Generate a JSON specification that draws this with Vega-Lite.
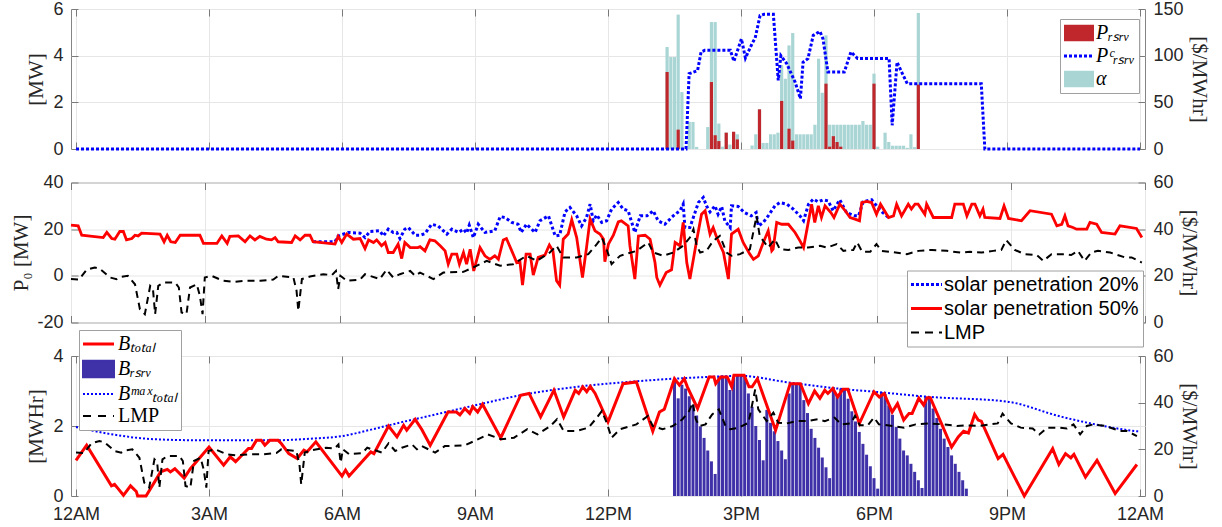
{
  "$schema": "https://vega.github.io/schema/vega-lite/v6.json",
  "padding": {"left": 10, "top": -1, "right": 10, "bottom": 2},
  "bounds": "flush",
  "spacing": 33.5,
  "config": {
    "view": {"stroke": "#858585", "strokeWidth": 1},
    "font": "Liberation Sans",
    "axis": {"domain": false, "labelFont": "Liberation Sans", "labelFontSize": 18, "labelColor": "#262626", "titleFont": "Liberation Serif", "titleFontSize": 21, "titleFontWeight": "normal", "titleColor": "#262626", "gridColor": "#e6e6e6", "gridWidth": 1, "tickColor": "#7a7a7a", "tickSize": -7, "tickWidth": 1, "labelPadding": 15, "titlePadding": 5},
    "legend": {"fillColor": "white", "strokeColor": "#a0a0a0", "padding": 4, "labelColor": "#000000", "labelLimit": 400, "symbolSize": 900, "cornerRadius": 0}
  },
  "resolve": {"scale": {"color": "independent"}, "legend": {"color": "independent"}},
  "datasets": {
    "top_alpha": [
      {"t":13.333,"v":4.37},{"t":13.417,"v":3.94},{"t":13.5,"v":3.94},{"t":13.583,"v":5.76},{"t":13.667,"v":2.44},{"t":13.833,"v":1.16},{"t":13.917,"v":1.16},{"t":14.0,"v":0.09},{"t":14.25,"v":0.94},{"t":14.333,"v":5.44},{"t":14.417,"v":5.44},{"t":14.5,"v":1.09},{"t":14.583,"v":0.1},{"t":14.667,"v":0.7},{"t":14.75,"v":0.19},{"t":14.833,"v":0.7},{"t":14.917,"v":0.63},{"t":15.25,"v":0.15},{"t":15.333,"v":0.63},{"t":15.417,"v":1.7},{"t":15.5,"v":0.26},{"t":15.583,"v":0.26},{"t":15.667,"v":0.63},{"t":15.75,"v":0.63},{"t":15.833,"v":0.7},{"t":15.917,"v":3.59},{"t":16.0,"v":3.01},{"t":16.083,"v":4.44},{"t":16.167,"v":4.97},{"t":16.25,"v":0.63},{"t":16.333,"v":0.63},{"t":16.417,"v":0.63},{"t":16.5,"v":0.63},{"t":16.583,"v":0.63},{"t":16.667,"v":1.04},{"t":16.75,"v":3.87},{"t":16.833,"v":2.41},{"t":16.917,"v":4.87},{"t":17.0,"v":1.04},{"t":17.083,"v":1.04},{"t":17.167,"v":1.04},{"t":17.25,"v":1.04},{"t":17.333,"v":1.04},{"t":17.417,"v":1.04},{"t":17.5,"v":1.04},{"t":17.583,"v":1.04},{"t":17.667,"v":1.04},{"t":17.75,"v":1.2},{"t":17.833,"v":1.04},{"t":17.917,"v":1.04},{"t":18.0,"v":3.23},{"t":18.083,"v":0.1},{"t":18.25,"v":0.7},{"t":18.333,"v":0.3},{"t":18.417,"v":0.14},{"t":18.5,"v":0.14},{"t":18.583,"v":0.14},{"t":18.667,"v":0.14},{"t":18.75,"v":0.05},{"t":18.833,"v":0.63},{"t":18.917,"v":0.08},{"t":19.0,"v":5.83}
    ],
    "top_p": [
      {"t":13.333,"v":3.3},{"t":13.583,"v":0.83},{"t":14.333,"v":2.87},{"t":14.417,"v":0.59},{"t":14.5,"v":0.34},{"t":14.667,"v":0.7},{"t":14.833,"v":0.74},{"t":14.917,"v":0.41},{"t":15.417,"v":1.7},{"t":15.917,"v":2.06},{"t":16.083,"v":0.87},{"t":16.167,"v":0.36},{"t":16.917,"v":2.8},{"t":17.0,"v":0.1},{"t":17.083,"v":0.55},{"t":17.167,"v":0.3},{"t":17.25,"v":0.1},{"t":18.0,"v":2.8},{"t":19.0,"v":2.76}
    ],
    "top_pc": [
      {"t":0,"v":0},{"t":13.76,"v":0},{"t":13.83,"v":80.7},{"t":14.02,"v":84},{"t":14.1,"v":104},{"t":14.18,"v":105.7},{"t":14.76,"v":105.7},{"t":14.84,"v":94},{"t":15.01,"v":118},{"t":15.1,"v":97.5},{"t":15.25,"v":113},{"t":15.32,"v":119},{"t":15.43,"v":143},{"t":15.52,"v":144.3},{"t":15.73,"v":144.3},{"t":15.84,"v":73.6},{"t":15.9,"v":100},{"t":16.03,"v":91.5},{"t":16.22,"v":71.8},{"t":16.34,"v":53.9},{"t":16.4,"v":93},{"t":16.51,"v":96.8},{"t":16.63,"v":121.8},{"t":16.78,"v":126},{"t":16.85,"v":118},{"t":16.96,"v":82.5},{"t":17.33,"v":82.5},{"t":17.48,"v":104},{"t":17.63,"v":97},{"t":18.34,"v":97},{"t":18.41,"v":25.4},{"t":18.52,"v":93},{"t":18.64,"v":80.7},{"t":18.75,"v":70},{"t":20.42,"v":70},{"t":20.5,"v":0},{"t":24,"v":0}
    ],
    "mid_20": [
      {"t":5.41,"v":14.6},{"t":5.9,"v":14.6},{"t":5.97,"v":17.1},{"t":6.2,"v":18.6},{"t":6.46,"v":18.3},{"t":6.57,"v":16.4},{"t":6.68,"v":19},{"t":6.9,"v":19.3},{"t":6.98,"v":17.1},{"t":7.09,"v":20},{"t":7.2,"v":18.6},{"t":7.28,"v":18.6},{"t":7.35,"v":16},{"t":7.46,"v":20},{"t":7.54,"v":20.7},{"t":7.69,"v":17.4},{"t":7.8,"v":17.4},{"t":7.91,"v":18.1},{"t":8.06,"v":22.1},{"t":8.2,"v":21.4},{"t":8.4,"v":17.9},{"t":8.51,"v":20},{"t":8.66,"v":18.6},{"t":8.77,"v":20},{"t":8.84,"v":18.3},{"t":8.9,"v":21.7},{"t":8.99,"v":16.4},{"t":9.1,"v":22.1},{"t":9.25,"v":18.6},{"t":9.47,"v":19.3},{"t":9.59,"v":25.4},{"t":9.7,"v":25},{"t":9.85,"v":22.9},{"t":9.99,"v":22.1},{"t":10.06,"v":18.6},{"t":10.18,"v":22.1},{"t":10.37,"v":18.6},{"t":10.48,"v":23.6},{"t":10.67,"v":25.7},{"t":10.82,"v":17.1},{"t":10.92,"v":17.4},{"t":11.04,"v":27.4},{"t":11.15,"v":29.3},{"t":11.3,"v":25.7},{"t":11.41,"v":21.4},{"t":11.52,"v":25},{"t":11.6,"v":30.7},{"t":11.67,"v":23.6},{"t":11.75,"v":26.1},{"t":11.86,"v":22.9},{"t":11.97,"v":23.6},{"t":12.08,"v":28.6},{"t":12.23,"v":31.4},{"t":12.34,"v":28.6},{"t":12.45,"v":27.9},{"t":12.6,"v":18.6},{"t":12.72,"v":25.7},{"t":12.87,"v":25.7},{"t":13.01,"v":27.9},{"t":13.12,"v":23.6},{"t":13.27,"v":22.1},{"t":13.42,"v":25},{"t":13.5,"v":26.4},{"t":13.61,"v":27.9},{"t":13.68,"v":30.7},{"t":13.72,"v":20.7},{"t":13.83,"v":20.7},{"t":14.02,"v":31.4},{"t":14.13,"v":33.6},{"t":14.2,"v":30},{"t":14.28,"v":27.4},{"t":14.39,"v":30},{"t":14.46,"v":26.4},{"t":14.54,"v":29.7},{"t":14.61,"v":23.6},{"t":14.73,"v":20.7},{"t":14.76,"v":30},{"t":14.91,"v":29.7},{"t":15.05,"v":27.1},{"t":15.2,"v":25.7},{"t":15.31,"v":27.1},{"t":15.36,"v":21.4},{"t":15.47,"v":22.9},{"t":15.58,"v":25.7},{"t":15.73,"v":30},{"t":15.84,"v":31.4},{"t":16.0,"v":30.7},{"t":16.14,"v":28.6},{"t":16.29,"v":25.7},{"t":16.37,"v":23.6},{"t":16.48,"v":30.7},{"t":16.59,"v":32.9},{"t":16.7,"v":31.7},{"t":16.81,"v":32.6},{"t":16.92,"v":32.1},{"t":17.03,"v":27.9},{"t":17.18,"v":32.6},{"t":17.33,"v":27.1},{"t":17.52,"v":25.7},{"t":17.6,"v":25.7},{"t":17.7,"v":31.7},{"t":17.89,"v":32.6},{"t":18.03,"v":29.3},{"t":18.14,"v":27.1},{"t":18.27,"v":25}
    ],
    "mid_50": [
      {"t":0,"v":21.7},{"t":0.16,"v":21.4},{"t":0.24,"v":17.4},{"t":0.72,"v":16.4},{"t":0.8,"v":18.6},{"t":0.91,"v":16},{"t":0.98,"v":15.7},{"t":1.09,"v":19},{"t":1.17,"v":19},{"t":1.24,"v":15.4},{"t":1.36,"v":16},{"t":1.43,"v":17.4},{"t":1.5,"v":17.1},{"t":1.58,"v":18.3},{"t":1.99,"v":17.9},{"t":2.08,"v":14.6},{"t":2.15,"v":17.4},{"t":2.23,"v":14.6},{"t":2.33,"v":14.3},{"t":2.44,"v":17.4},{"t":2.88,"v":17.4},{"t":2.96,"v":13.9},{"t":3.26,"v":13.9},{"t":3.37,"v":17.1},{"t":3.49,"v":13.9},{"t":3.55,"v":16.9},{"t":3.74,"v":17.1},{"t":3.89,"v":14.6},{"t":4.0,"v":17.1},{"t":4.11,"v":15.4},{"t":4.22,"v":16.9},{"t":4.37,"v":15.7},{"t":4.48,"v":15.4},{"t":4.56,"v":16.4},{"t":4.63,"v":14.6},{"t":4.93,"v":14.3},{"t":5.01,"v":17.1},{"t":5.12,"v":15.4},{"t":5.23,"v":17.4},{"t":5.34,"v":17.4},{"t":5.41,"v":14.6},{"t":5.9,"v":13.6},{"t":5.97,"v":16.9},{"t":6.05,"v":14.3},{"t":6.16,"v":17.9},{"t":6.31,"v":15.7},{"t":6.46,"v":16},{"t":6.57,"v":11.7},{"t":6.65,"v":15.4},{"t":6.76,"v":14.3},{"t":6.83,"v":15.4},{"t":6.94,"v":12.9},{"t":7.02,"v":14.3},{"t":7.09,"v":10},{"t":7.2,"v":10},{"t":7.31,"v":13.6},{"t":7.39,"v":7.4},{"t":7.46,"v":14.3},{"t":7.58,"v":12.1},{"t":7.75,"v":12.1},{"t":7.8,"v":12.5},{"t":7.91,"v":10.7},{"t":8.02,"v":15.4},{"t":8.13,"v":15},{"t":8.25,"v":12.9},{"t":8.36,"v":10.7},{"t":8.43,"v":5},{"t":8.51,"v":9.3},{"t":8.62,"v":9.3},{"t":8.68,"v":5},{"t":8.77,"v":10},{"t":8.84,"v":5},{"t":8.92,"v":11.4},{"t":9.0,"v":2.1},{"t":9.14,"v":12.1},{"t":9.25,"v":8.6},{"t":9.36,"v":7.1},{"t":9.47,"v":8.6},{"t":9.55,"v":7.1},{"t":9.66,"v":15.4},{"t":9.73,"v":16},{"t":9.85,"v":10.7},{"t":9.96,"v":5.7},{"t":10.03,"v":6.4},{"t":10.09,"v":-4},{"t":10.17,"v":9.3},{"t":10.26,"v":9.3},{"t":10.33,"v":0.3},{"t":10.44,"v":7.9},{"t":10.59,"v":8.9},{"t":10.69,"v":13.2},{"t":10.77,"v":10.7},{"t":10.85,"v":-2.1},{"t":10.92,"v":-4},{"t":11.0,"v":15.7},{"t":11.11,"v":17.9},{"t":11.19,"v":24},{"t":11.3,"v":16.4},{"t":11.43,"v":-0.7},{"t":11.52,"v":12.1},{"t":11.6,"v":24.3},{"t":11.71,"v":19.3},{"t":11.82,"v":17.9},{"t":11.9,"v":15.7},{"t":11.93,"v":6.1},{"t":12.01,"v":13.6},{"t":12.12,"v":17.4},{"t":12.23,"v":23.1},{"t":12.3,"v":23.6},{"t":12.45,"v":21.4},{"t":12.49,"v":12.9},{"t":12.6,"v":-1.4},{"t":12.68,"v":17.1},{"t":12.83,"v":17.4},{"t":12.94,"v":15.7},{"t":13.05,"v":5.7},{"t":13.09,"v":-0.7},{"t":13.16,"v":-4},{"t":13.3,"v":1.4},{"t":13.42,"v":2.6},{"t":13.5,"v":14.3},{"t":13.61,"v":12.9},{"t":13.68,"v":22.9},{"t":13.76,"v":5.7},{"t":13.83,"v":-1.4},{"t":13.98,"v":15},{"t":14.09,"v":26.4},{"t":14.17,"v":27.9},{"t":14.28,"v":17.9},{"t":14.35,"v":20.7},{"t":14.43,"v":16.4},{"t":14.58,"v":10},{"t":14.69,"v":-1.4},{"t":14.76,"v":17.9},{"t":14.91,"v":20},{"t":15.02,"v":14.3},{"t":15.17,"v":9.3},{"t":15.25,"v":7.1},{"t":15.36,"v":8.6},{"t":15.47,"v":14.3},{"t":15.58,"v":19.3},{"t":15.66,"v":10.7},{"t":15.69,"v":11.4},{"t":15.77,"v":22.9},{"t":15.88,"v":22.1},{"t":16.03,"v":22.1},{"t":16.18,"v":18.6},{"t":16.29,"v":15},{"t":16.37,"v":12.1},{"t":16.55,"v":30.7},{"t":16.62,"v":22.9},{"t":16.7,"v":30},{"t":16.77,"v":25},{"t":16.85,"v":30},{"t":16.98,"v":27.1},{"t":17.05,"v":25},{"t":17.18,"v":30.7},{"t":17.3,"v":27.9},{"t":17.41,"v":25},{"t":17.52,"v":24.3},{"t":17.62,"v":23.6},{"t":17.67,"v":31.4},{"t":17.78,"v":31.9},{"t":17.89,"v":31.4},{"t":18.0,"v":26.4},{"t":18.09,"v":30.7},{"t":18.27,"v":25},{"t":18.38,"v":25.7},{"t":18.45,"v":30.7},{"t":18.56,"v":25.7},{"t":18.71,"v":30.7},{"t":18.78,"v":28.6},{"t":18.86,"v":30.7},{"t":18.93,"v":30.7},{"t":19.08,"v":26.4},{"t":19.12,"v":30.7},{"t":19.27,"v":25},{"t":19.68,"v":25},{"t":19.75,"v":30.7},{"t":19.94,"v":30.7},{"t":20.02,"v":25.7},{"t":20.13,"v":30.7},{"t":20.2,"v":30.7},{"t":20.31,"v":25.7},{"t":20.38,"v":28.6},{"t":20.42,"v":25},{"t":20.76,"v":24.6},{"t":20.85,"v":30},{"t":20.95,"v":24.6},{"t":21.24,"v":23.6},{"t":21.43,"v":27.9},{"t":21.91,"v":26.4},{"t":22.03,"v":21.4},{"t":22.14,"v":22.1},{"t":22.21,"v":25.7},{"t":22.28,"v":21.4},{"t":22.39,"v":20.7},{"t":22.47,"v":20},{"t":22.7,"v":20},{"t":22.77,"v":22.9},{"t":22.92,"v":22.1},{"t":23.03,"v":18.6},{"t":23.33,"v":17.9},{"t":23.44,"v":21.4},{"t":23.81,"v":20.3},{"t":23.93,"v":16.4}
    ],
    "lmp": [
      {"t":0,"v":18.6},{"t":0.18,"v":18.4},{"t":0.35,"v":22.6},{"t":0.53,"v":23.6},{"t":0.65,"v":22.9},{"t":0.87,"v":19.3},{"t":1.02,"v":18.6},{"t":1.13,"v":19.6},{"t":1.27,"v":20},{"t":1.43,"v":16.4},{"t":1.54,"v":5.7},{"t":1.65,"v":3.6},{"t":1.77,"v":15.7},{"t":1.83,"v":14.6},{"t":1.88,"v":3.6},{"t":1.95,"v":15.7},{"t":2.06,"v":17.1},{"t":2.18,"v":17.1},{"t":2.33,"v":17.1},{"t":2.41,"v":15},{"t":2.47,"v":4.3},{"t":2.58,"v":3.6},{"t":2.66,"v":15},{"t":2.81,"v":16.4},{"t":2.88,"v":11.4},{"t":2.94,"v":3.6},{"t":2.99,"v":19.3},{"t":3.14,"v":20},{"t":3.4,"v":17.9},{"t":3.62,"v":17.4},{"t":3.93,"v":17.9},{"t":4.23,"v":17.9},{"t":4.52,"v":18.4},{"t":4.63,"v":20},{"t":4.97,"v":19.3},{"t":5.04,"v":13.6},{"t":5.08,"v":5},{"t":5.16,"v":18.6},{"t":5.34,"v":19.7},{"t":5.64,"v":20.7},{"t":5.83,"v":20.3},{"t":5.92,"v":22.1},{"t":5.97,"v":14.3},{"t":6.02,"v":20},{"t":6.16,"v":17.9},{"t":6.46,"v":18.4},{"t":6.57,"v":20.7},{"t":6.9,"v":18.6},{"t":7.05,"v":22.6},{"t":7.2,"v":19.3},{"t":7.35,"v":20.7},{"t":7.58,"v":22.1},{"t":7.69,"v":20},{"t":7.8,"v":21.4},{"t":8.1,"v":18.6},{"t":8.32,"v":21.4},{"t":8.77,"v":21.7},{"t":8.99,"v":23.6},{"t":9.29,"v":26.4},{"t":9.59,"v":24.3},{"t":9.88,"v":25},{"t":10.18,"v":28.6},{"t":10.41,"v":26.4},{"t":10.7,"v":30},{"t":10.85,"v":32.9},{"t":11.0,"v":27.9},{"t":11.3,"v":27.9},{"t":11.56,"v":29.3},{"t":11.75,"v":33.6},{"t":11.86,"v":36.4},{"t":11.97,"v":31.4},{"t":12.08,"v":25},{"t":12.27,"v":28.6},{"t":12.64,"v":30.7},{"t":12.9,"v":34.3},{"t":13.01,"v":30},{"t":13.23,"v":28.6},{"t":13.46,"v":30},{"t":13.68,"v":32.9},{"t":13.83,"v":36.4},{"t":13.91,"v":40},{"t":13.98,"v":32.9},{"t":14.06,"v":30},{"t":14.2,"v":30.7},{"t":14.35,"v":35},{"t":14.5,"v":37.1},{"t":14.65,"v":30},{"t":14.76,"v":28.6},{"t":14.95,"v":29.3},{"t":15.17,"v":31.4},{"t":15.32,"v":45.7},{"t":15.39,"v":37.1},{"t":15.58,"v":32.1},{"t":15.73,"v":35.7},{"t":15.84,"v":31.4},{"t":16.03,"v":31.1},{"t":16.25,"v":32.1},{"t":16.47,"v":32.1},{"t":16.74,"v":32.9},{"t":16.89,"v":32.1},{"t":17.11,"v":33.6},{"t":17.26,"v":30.7},{"t":17.48,"v":31.1},{"t":17.57,"v":34.3},{"t":17.68,"v":30.3},{"t":17.86,"v":30.3},{"t":18.0,"v":33.6},{"t":18.11,"v":30.7},{"t":18.3,"v":30.3},{"t":18.68,"v":29.3},{"t":18.94,"v":30.7},{"t":19.24,"v":31.1},{"t":19.57,"v":30.7},{"t":19.87,"v":30},{"t":20.09,"v":30.3},{"t":20.35,"v":30},{"t":20.61,"v":30.7},{"t":20.79,"v":31.1},{"t":20.9,"v":35.3},{"t":21.09,"v":31.1},{"t":21.31,"v":29.3},{"t":21.58,"v":28.9},{"t":21.73,"v":26.4},{"t":21.91,"v":29.3},{"t":22.2,"v":29.3},{"t":22.35,"v":28.9},{"t":22.5,"v":30.7},{"t":22.65,"v":26.4},{"t":22.8,"v":30},{"t":22.95,"v":30.7},{"t":23.22,"v":30},{"t":23.55,"v":27.9},{"t":23.7,"v":27.9},{"t":23.93,"v":25.7}
    ],
    "bot_total": [
      {"t":0,"v":1.02},{"t":0.24,"v":1.45},{"t":0.8,"v":0.29},{"t":0.87,"v":0.33},{"t":0.95,"v":0.21},{"t":1.07,"v":0.02},{"t":1.23,"v":0.29},{"t":1.36,"v":0.13},{"t":1.39,"v":0},{"t":1.58,"v":0},{"t":1.91,"v":0.69},{"t":2.06,"v":0.76},{"t":2.13,"v":0.69},{"t":2.23,"v":0.78},{"t":2.44,"v":0.51},{"t":2.58,"v":0.78},{"t":3.0,"v":1.4},{"t":3.33,"v":0.88},{"t":3.48,"v":1.12},{"t":3.6,"v":0.98},{"t":3.89,"v":1.36},{"t":3.96,"v":1.36},{"t":4.07,"v":1.59},{"t":4.18,"v":1.59},{"t":4.26,"v":1.45},{"t":4.37,"v":1.59},{"t":4.56,"v":1.59},{"t":4.63,"v":1.5},{"t":4.8,"v":1.21},{"t":4.99,"v":1.07},{"t":5.14,"v":1.31},{"t":5.21,"v":1.26},{"t":5.41,"v":1.55},{"t":6.0,"v":0.57},{"t":6.08,"v":0.74},{"t":6.16,"v":0.57},{"t":6.65,"v":1.26},{"t":6.72,"v":1.21},{"t":7.05,"v":2.0},{"t":7.24,"v":1.69},{"t":7.39,"v":2.02},{"t":7.46,"v":1.88},{"t":7.65,"v":2.19},{"t":7.8,"v":1.9},{"t":7.99,"v":1.45},{"t":8.39,"v":2.4},{"t":8.58,"v":2.4},{"t":8.66,"v":2.32},{"t":8.77,"v":2.5},{"t":8.88,"v":2.36},{"t":8.95,"v":2.55},{"t":9.06,"v":2.4},{"t":9.17,"v":2.62},{"t":9.58,"v":1.66},{"t":10.03,"v":2.88},{"t":10.22,"v":2.93},{"t":10.48,"v":2.26},{"t":10.78,"v":3.02},{"t":11.0,"v":2.26},{"t":11.26,"v":3.02},{"t":11.34,"v":2.93},{"t":11.43,"v":3.12},{"t":11.52,"v":2.98},{"t":11.6,"v":3.13},{"t":11.71,"v":2.93},{"t":12.0,"v":2.12},{"t":12.34,"v":3.21},{"t":12.64,"v":3.26},{"t":13.01,"v":1.85},{"t":13.16,"v":2.4},{"t":13.27,"v":2.48},{"t":13.5,"v":3.35},{"t":13.61,"v":3.17},{"t":13.72,"v":3.35},{"t":13.79,"v":3.12},{"t":14.02,"v":2.5},{"t":14.28,"v":3.4},{"t":14.39,"v":3.4},{"t":14.43,"v":3.21},{"t":14.54,"v":3.4},{"t":14.69,"v":3.4},{"t":14.79,"v":3.12},{"t":14.84,"v":3.45},{"t":15.07,"v":3.45},{"t":15.18,"v":3.12},{"t":15.25,"v":3.12},{"t":15.37,"v":3.35},{"t":15.78,"v":1.88},{"t":16.11,"v":3.21},{"t":16.34,"v":3.21},{"t":16.52,"v":2.64},{"t":16.66,"v":3.0},{"t":16.78,"v":2.79},{"t":16.89,"v":3.02},{"t":16.96,"v":2.93},{"t":17.07,"v":3.07},{"t":17.18,"v":2.83},{"t":17.3,"v":3.05},{"t":17.41,"v":3.05},{"t":17.67,"v":2.07},{"t":18.0,"v":2.98},{"t":18.12,"v":2.83},{"t":18.23,"v":2.93},{"t":18.41,"v":2.4},{"t":18.53,"v":2.64},{"t":18.67,"v":2.17},{"t":18.79,"v":2.36},{"t":18.86,"v":2.36},{"t":19.01,"v":2.79},{"t":19.12,"v":2.6},{"t":19.2,"v":2.81},{"t":19.27,"v":2.81},{"t":19.75,"v":1.4},{"t":19.9,"v":1.69},{"t":20.02,"v":1.85},{"t":20.13,"v":1.8},{"t":20.27,"v":2.33},{"t":20.35,"v":2.17},{"t":20.42,"v":2.14},{"t":20.8,"v":1.07},{"t":20.91,"v":1.19},{"t":21.39,"v":0},{"t":22.03,"v":1.35},{"t":22.17,"v":0.9},{"t":22.32,"v":1.21},{"t":22.44,"v":1.09},{"t":22.51,"v":1.19},{"t":22.77,"v":0.54},{"t":23.03,"v":1.02},{"t":23.44,"v":0.07},{"t":23.93,"v":0.9}
    ],
    "bot_max": [
      {"t":0,"v":1.97},{"t":0.73,"v":1.78},{"t":1.8,"v":1.62},{"t":2.95,"v":1.59},{"t":4.37,"v":1.59},{"t":5.34,"v":1.64},{"t":6.0,"v":1.71},{"t":6.6,"v":1.88},{"t":7.35,"v":2.11},{"t":7.8,"v":2.24},{"t":9.0,"v":2.59},{"t":10.03,"v":2.88},{"t":11.37,"v":3.13},{"t":12.56,"v":3.27},{"t":13.75,"v":3.37},{"t":15.02,"v":3.43},{"t":15.99,"v":3.26},{"t":17.18,"v":3.07},{"t":18.0,"v":2.98},{"t":19.27,"v":2.83},{"t":20.98,"v":2.7},{"t":22.24,"v":2.26},{"t":23.93,"v":1.85},{"t":24,"v":1.84}
    ],
    "bot_rsrv": [
      {"t":13.5,"v":3.37},{"t":13.583,"v":2.79},{"t":13.667,"v":3.18},{"t":13.75,"v":3.07},{"t":13.833,"v":2.85},{"t":13.917,"v":2.6},{"t":14.0,"v":2.3},{"t":14.083,"v":1.99},{"t":14.167,"v":1.66},{"t":14.25,"v":1.3},{"t":14.333,"v":0.99},{"t":14.417,"v":0.63},{"t":14.5,"v":3.4},{"t":14.583,"v":3.43},{"t":14.667,"v":3.4},{"t":14.75,"v":3.03},{"t":14.833,"v":3.4},{"t":14.917,"v":3.45},{"t":15.0,"v":3.45},{"t":15.083,"v":3.45},{"t":15.167,"v":2.93},{"t":15.25,"v":2.55},{"t":15.333,"v":2.0},{"t":15.417,"v":1.6},{"t":15.5,"v":1.02},{"t":15.583,"v":2.46},{"t":15.667,"v":2.09},{"t":15.75,"v":1.85},{"t":15.833,"v":1.57},{"t":15.917,"v":1.3},{"t":16.0,"v":1.05},{"t":16.083,"v":2.93},{"t":16.167,"v":3.21},{"t":16.25,"v":3.21},{"t":16.333,"v":3.21},{"t":16.417,"v":2.74},{"t":16.5,"v":2.37},{"t":16.583,"v":1.92},{"t":16.667,"v":1.66},{"t":16.75,"v":1.38},{"t":16.833,"v":1.1},{"t":16.917,"v":0.82},{"t":17.0,"v":0.51},{"t":17.083,"v":3.11},{"t":17.167,"v":2.9},{"t":17.25,"v":3.07},{"t":17.333,"v":3.07},{"t":17.417,"v":2.78},{"t":17.5,"v":2.42},{"t":17.583,"v":2.13},{"t":17.667,"v":1.83},{"t":17.75,"v":1.49},{"t":17.833,"v":1.18},{"t":17.917,"v":0.85},{"t":18.0,"v":0.51},{"t":18.083,"v":0.21},{"t":18.167,"v":2.97},{"t":18.25,"v":2.92},{"t":18.333,"v":2.59},{"t":18.417,"v":2.32},{"t":18.5,"v":1.97},{"t":18.583,"v":1.64},{"t":18.667,"v":1.3},{"t":18.75,"v":1.16},{"t":18.833,"v":0.92},{"t":18.917,"v":0.69},{"t":19.0,"v":0.45},{"t":19.083,"v":0.23},{"t":19.167,"v":2.83},{"t":19.25,"v":2.8},{"t":19.333,"v":2.5},{"t":19.417,"v":2.23},{"t":19.5,"v":1.92},{"t":19.583,"v":1.64},{"t":19.667,"v":1.4},{"t":19.75,"v":1.16},{"t":19.833,"v":0.92},{"t":19.917,"v":0.69},{"t":20.0,"v":0.45},{"t":20.083,"v":0.21}
    ]
  },
  "vconcat": [
    {
      "width": 1074, "height": 140,
      "layer": [
        {
          "data": {"name": "top_alpha"},
          "mark": {"type": "bar", "width": 3.2},
          "encoding": {
            "x": {"field": "t", "type": "quantitative", "scale": {"domain": [0, 24], "nice": false, "zero": false}, "axis": {"orient": "bottom", "values": [0,3,6,9,12,15,18,21,24], "labels": false, "grid": true, "title": null}},
            "y": {"field": "v", "type": "quantitative", "scale": {"domain": [0, 6], "nice": false}, "axis": {"orient": "left", "values": [0,2,4,6], "grid": true, "title": "[MW]", "titleX": -25}},
            "color": {"datum": "α", "scale": {"domain": ["Pᵣₛᵣᵥ", "Pᶜᵣₛᵣᵥ", "α"], "range": ["#c0272d", "#0000ff", "#a9d5d5"]},
              "legend": {"title": null, "orient": "none", "legendX": 989, "legendY": 10, "labelFont": "Liberation Serif", "labelFontSize": 20, "labelFontStyle": "italic", "rowPadding": 3, "labelOffset": 12,
                "encode": {"symbols": {"update": {
                  "shape": {"signal": "datum.value === 'Pᶜᵣₛᵣᵥ' ? 'M-0.667,0H1.333' : 'M-0.667,-0.55H1.333V0.55H-0.667Z'"},
                  "fill": {"signal": "datum.value === 'Pᵣₛᵣᵥ' ? '#ff0000' : datum.value === 'α' ? '#a9d5d5' : 'transparent'"},
                  "stroke": {"signal": "datum.value === 'Pᶜᵣₛᵣᵥ' ? '#0000ff' : 'transparent'"},
                  "strokeDash": {"signal": "datum.value === 'Pᶜᵣₛᵣᵥ' ? [3,2] : [1,0]"},
                  "strokeWidth": {"signal": "datum.value === 'Pᶜᵣₛᵣᵥ' ? 3 : 0"},
                  "opacity": {"value": 1}
                }}}}}
          }
        },
        {
          "data": {"name": "top_p"},
          "mark": {"type": "bar", "width": 3.2},
          "encoding": {
            "x": {"field": "t", "type": "quantitative", "axis": null},
            "y": {"field": "v", "type": "quantitative", "scale": {"domain": [0, 6], "nice": false}, "axis": null},
            "color": {"datum": "Pᵣₛᵣᵥ"}
          }
        },
        {
          "data": {"name": "top_pc"},
          "mark": {"type": "line", "strokeDash": [3, 2], "strokeWidth": 3},
          "encoding": {
            "x": {"field": "t", "type": "quantitative", "axis": {"orient": "top", "values": [0,3,6,9,12,15,18,21,24], "labels": false, "grid": false, "title": null}},
            "y": {"field": "v", "type": "quantitative", "scale": {"domain": [0, 150], "nice": false}, "axis": {"orient": "right", "values": [0,50,100,150], "grid": false, "title": "[$/MWhr]"}},
            "color": {"datum": "Pᶜᵣₛᵣᵥ"}
          }
        }
      ],
      "resolve": {"scale": {"y": "independent"}, "axis": {"x": "independent", "y": "independent"}}
    },
    {
      "width": 1074, "height": 140,
      "layer": [
        {
          "data": {"name": "mid_20"},
          "mark": {"type": "line", "strokeDash": [3, 2.5], "strokeWidth": 3},
          "encoding": {
            "x": {"field": "t", "type": "quantitative", "scale": {"domain": [0, 24], "nice": false, "zero": false}, "axis": {"orient": "bottom", "values": [0,3,6,9,12,15,18,21,24], "labels": false, "grid": true, "title": null}},
            "y": {"field": "v", "type": "quantitative", "scale": {"domain": [-20, 40], "nice": false}, "axis": {"orient": "left", "values": [-20,0,20,40], "labelExpr": "'' + datum.value", "grid": true, "title": "P₀ [MW]"}},
            "color": {"datum": "solar penetration 20%", "scale": {"domain": ["solar penetration 20%", "solar penetration 50%", "LMP"], "range": ["#0000ff", "#ff0000", "#000000"]},
              "legend": {"title": null, "orient": "none", "legendX": 836, "legendY": 88, "labelFont": "Liberation Sans", "labelFontSize": 20, "rowPadding": 4, "labelOffset": 13,
                "encode": {"symbols": {"update": {
                  "shape": {"value": "M-0.667,0H1.4"},
                  "fill": {"value": "transparent"},
                  "stroke": {"signal": "datum.value === 'LMP' ? '#000000' : datum.value === 'solar penetration 20%' ? '#0000ff' : '#ff0000'"},
                  "strokeDash": {"signal": "datum.value === 'LMP' ? [8,6] : datum.value === 'solar penetration 20%' ? [3,2] : [1,0]"},
                  "strokeWidth": {"signal": "datum.value === 'LMP' ? 2 : 3"},
                  "opacity": {"value": 1}
                }}}}}
          }
        },
        {
          "data": {"name": "mid_50"},
          "mark": {"type": "line", "strokeWidth": 2.8},
          "encoding": {
            "x": {"field": "t", "type": "quantitative", "axis": null},
            "y": {"field": "v", "type": "quantitative", "scale": {"domain": [-20, 40], "nice": false}, "axis": null},
            "color": {"datum": "solar penetration 50%"}
          }
        },
        {
          "data": {"name": "lmp"},
          "mark": {"type": "line", "strokeDash": [7, 5], "strokeWidth": 2},
          "encoding": {
            "x": {"field": "t", "type": "quantitative", "axis": {"orient": "top", "values": [0,3,6,9,12,15,18,21,24], "labels": false, "grid": false, "title": null}},
            "y": {"field": "v", "type": "quantitative", "scale": {"domain": [0, 60], "nice": false}, "axis": {"orient": "right", "values": [0,20,40,60], "grid": false, "title": "[$/MWhr]"}},
            "color": {"datum": "LMP"}
          }
        }
      ],
      "resolve": {"scale": {"y": "independent"}, "axis": {"x": "independent", "y": "independent"}}
    },
    {
      "width": 1074, "height": 140,
      "layer": [
        {
          "data": {"name": "bot_rsrv"},
          "mark": {"type": "bar", "width": 3},
          "encoding": {
            "x": {"field": "t", "type": "quantitative", "scale": {"domain": [0, 24], "nice": false, "zero": false}, "axis": {"orient": "bottom", "values": [0,3,6,9,12,15,18,21,24], "labelExpr": "datum.value % 12 === 0 ? '12' + (datum.value === 12 ? 'PM' : 'AM') : (datum.value % 12) + (datum.value > 12 ? 'PM' : 'AM')", "labelFlush": false, "labelOverlap": false, "labelPadding": 16, "grid": true, "title": null}},
            "y": {"field": "v", "type": "quantitative", "scale": {"domain": [0, 4], "nice": false}, "axis": {"orient": "left", "values": [0,2,4], "grid": true, "title": "[MWHr]", "titleX": -25}},
            "color": {"datum": "Bᵣₛᵣᵥ", "scale": {"domain": ["Bₜₒₜₐₗ", "Bᵣₛᵣᵥ", "Bᵐᵃˣₜₒₜₐₗ", "LMP"], "range": ["#ff0000", "#3f31a8", "#0000ff", "#000000"]},
              "legend": {"title": null, "orient": "none", "legendX": 8, "legendY": -26, "labelFont": "Liberation Serif", "labelFontSize": 20, "labelFontStyle": "italic", "rowPadding": 2, "labelOffset": 15,
                "encode": {
                  "symbols": {"update": {
                    "shape": {"signal": "datum.value === 'Bᵣₛᵣᵥ' ? 'M-0.667,-0.55H1.4V0.55H-0.667Z' : 'M-0.667,0H1.4'"},
                    "fill": {"signal": "datum.value === 'Bᵣₛᵣᵥ' ? '#3f31a8' : 'transparent'"},
                    "stroke": {"signal": "datum.value === 'Bₜₒₜₐₗ' ? '#ff0000' : datum.value === 'LMP' ? '#000000' : datum.value === 'Bᵣₛᵣᵥ' ? 'transparent' : '#0000ff'"},
                    "strokeDash": {"signal": "datum.value === 'LMP' ? [8,7] : datum.value === 'Bᵣₛᵣᵥ' || datum.value === 'Bₜₒₜₐₗ' ? [1,0] : [2,2]"},
                    "strokeWidth": {"signal": "datum.value === 'Bₜₒₜₐₗ' ? 3 : 2"},
                    "opacity": {"value": 1}
                  }},
                  "labels": {"update": {"fontStyle": {"signal": "datum.value === 'LMP' ? 'normal' : 'italic'"}}}
                }}}
          }
        },
        {
          "data": {"name": "bot_max"},
          "mark": {"type": "line", "strokeDash": [2, 2], "strokeWidth": 2, "interpolate": "monotone"},
          "encoding": {
            "x": {"field": "t", "type": "quantitative", "axis": null},
            "y": {"field": "v", "type": "quantitative", "scale": {"domain": [0, 4], "nice": false}, "axis": null},
            "color": {"datum": "Bᵐᵃˣₜₒₜₐₗ"}
          }
        },
        {
          "data": {"name": "bot_total"},
          "mark": {"type": "line", "strokeWidth": 3},
          "encoding": {
            "x": {"field": "t", "type": "quantitative", "axis": null},
            "y": {"field": "v", "type": "quantitative", "scale": {"domain": [0, 4], "nice": false}, "axis": null},
            "color": {"datum": "Bₜₒₜₐₗ"}
          }
        },
        {
          "data": {"name": "lmp"},
          "mark": {"type": "line", "strokeDash": [7, 5], "strokeWidth": 2},
          "encoding": {
            "x": {"field": "t", "type": "quantitative", "axis": {"orient": "top", "values": [0,3,6,9,12,15,18,21,24], "labels": false, "grid": false, "title": null}},
            "y": {"field": "v", "type": "quantitative", "scale": {"domain": [0, 60], "nice": false}, "axis": {"orient": "right", "values": [0,20,40,60], "grid": false, "title": "[$/MWhr]"}},
            "color": {"datum": "LMP"}
          }
        }
      ],
      "resolve": {"scale": {"y": "independent"}, "axis": {"x": "independent", "y": "independent"}}
    }
  ]
}
